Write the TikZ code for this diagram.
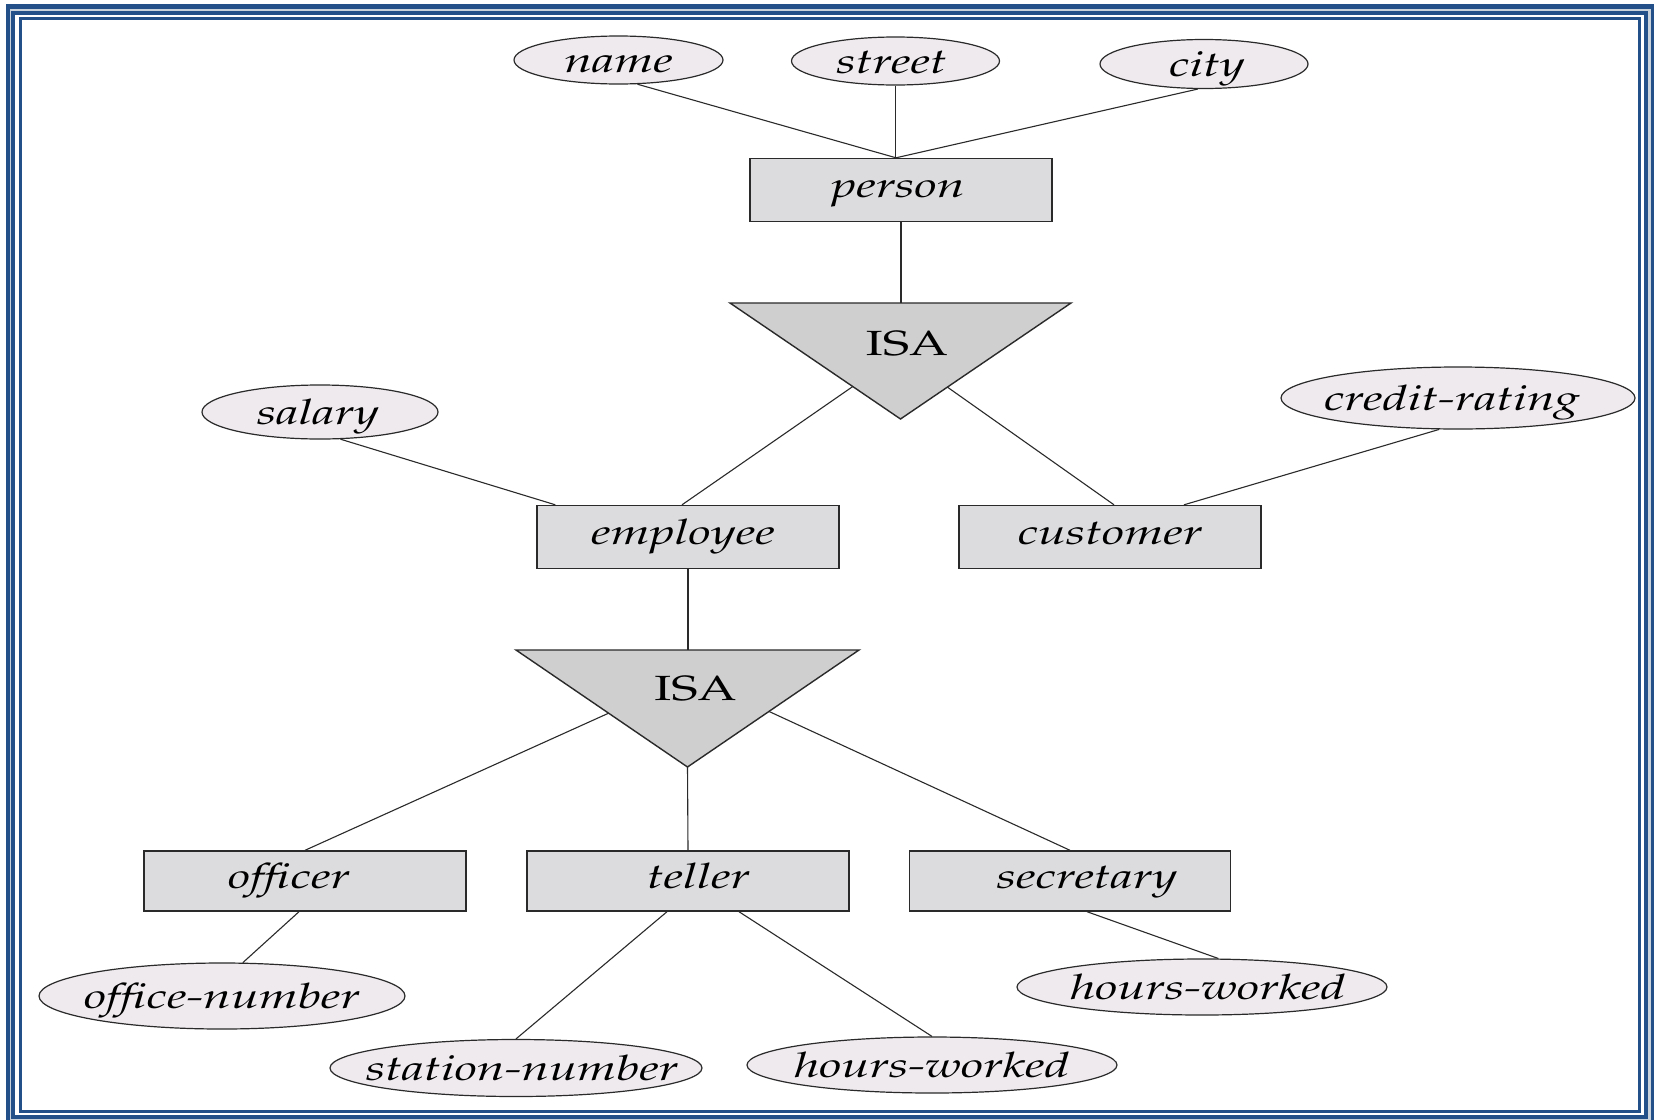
\documentclass[tikz,border=0pt]{standalone}
\usepackage[T1]{fontenc}
\renewcommand{\rmdefault}{ppl}
\usepackage{graphicx}
\usetikzlibrary{shapes.geometric,calc}
\definecolor{frameblue}{HTML}{24508A}
\definecolor{framegap}{HTML}{C9D1DB}
\definecolor{ellfill}{HTML}{EEEAEE}
\definecolor{entfill}{HTML}{DCDBDE}
\definecolor{isafill}{HTML}{CFCFCF}
\definecolor{edgecol}{HTML}{2A2A2A}
\newcommand{\lbfont}{\fontsize{35}{40}\selectfont\itshape}
\newcommand{\entlbl}[2][0pt]{\raisebox{-7.5pt}[0pt][0pt]{\makebox[0pt]{\kern#1\kern#1\scalebox{1.43}[1]{\lbfont #2}}}}
\newcommand{\attlbl}[2][0pt]{\raisebox{-12pt}[0pt][0pt]{\makebox[0pt]{\kern#1\kern#1\scalebox{1.43}[1]{\lbfont #2}}}}
\newcommand{\isalbl}{\scalebox{1.43}[1]{\fontsize{35}{40}\selectfont ISA}}
\begin{document}
\begin{tikzpicture}[x=1pt,y=-1pt,
  attr/.style={ellipse, draw=edgecol, fill=ellfill, line width=1.2pt, inner sep=0pt},
  ent/.style={rectangle, draw=edgecol, fill=entfill, line width=1.4pt, inner sep=0pt},
  isashape/.style={draw=edgecol, fill=isafill, line width=1.4pt, line join=miter},
  conn/.style={draw=edgecol, line width=1.1pt}]
% canvas
\fill[white] (0,0) rectangle (1654,1119);
\useasboundingbox (0,0) rectangle (1654,1119);
% frame
\draw[framegap, line width=3pt] (10.5,10) rectangle (1649.5,1118);
\draw[frameblue, line width=4.5pt] (8,6.5) rectangle (1653,1123);
\draw[frameblue, line width=4pt] (13,13) rectangle (1645.7,1117);
\draw[frameblue, line width=3pt] (20,18.5) rectangle (1639.5,1111.5);

% entities
\node[ent, minimum width=302pt, minimum height=63pt] (person) at (901,190) {\entlbl[-3pt]{person}};
\node[ent, minimum width=302pt, minimum height=63pt] (employee) at (688,537) {\entlbl[-5pt]{employee}};
\node[ent, minimum width=302pt, minimum height=63pt] (customer) at (1110,537) {\entlbl{customer}};
\node[ent, minimum width=322pt, minimum height=60pt] (officer) at (305,881) {\entlbl[-16pt]{officer}};
\node[ent, minimum width=322pt, minimum height=60pt] (teller) at (688,881) {\entlbl[10.5pt]{teller}};
\node[ent, minimum width=321pt, minimum height=60pt] (secretary) at (1070,881) {\entlbl[17pt]{secretary}};

% attributes
\node[attr, minimum width=209pt, minimum height=48pt] (name) at (618.5,60) {\attlbl{name}};
\node[attr, minimum width=208pt, minimum height=48pt] (street) at (895.5,61) {\attlbl[-4pt]{street}};
\node[attr, minimum width=208pt, minimum height=49pt] (city) at (1204,64) {\attlbl[3pt]{city}};
\node[attr, minimum width=236pt, minimum height=54pt] (salary) at (320,412) {\attlbl[-2pt]{salary}};
\node[attr, minimum width=354pt, minimum height=62pt] (credit) at (1458,398) {\attlbl[-6pt]{credit-rating}};
\node[attr, minimum width=366pt, minimum height=66pt] (office) at (222,996) {\attlbl{office-number}};
\node[attr, minimum width=372pt, minimum height=57pt] (station) at (516,1068) {\attlbl[6pt]{station-number}};
\node[attr, minimum width=370pt, minimum height=56pt] (hwa) at (932,1065) {\attlbl{hours-worked}};
\node[attr, minimum width=370pt, minimum height=56pt] (hwb) at (1202,987) {\attlbl[6pt]{hours-worked}};

% ISA triangles
\coordinate (i1l) at (730,303);
\coordinate (i1r) at (1071,303);
\coordinate (i1b) at (900.5,419);
\coordinate (i1t) at (900.5,303);
\draw[isashape] (i1l) -- (i1r) -- (i1b) -- cycle;
\node[anchor=base, inner sep=0pt] (isa1) at (907,355) {\isalbl};

\coordinate (i2l) at (516,650);
\coordinate (i2r) at (859,650);
\coordinate (i2b) at (687.5,767);
\coordinate (i2t) at (687.5,650);
\draw[isashape] (i2l) -- (i2r) -- (i2b) -- cycle;
\node[anchor=base, inner sep=0pt] (isa2) at (695.5,700) {\isalbl};

% connectors
\coordinate (pj) at ([xshift=-5pt]person.north);
\draw[conn] (name.-52) -- (pj);
\draw[conn] (street.south) -- (street.south |- person.north);
\draw[conn] (city.-104) -- (pj);
\draw[conn] (person.south) -- (person.south |- i1t);
\draw[conn] ($(i1l)!0.72!(i1b)$) -- ([xshift=-6pt]employee.north);
\draw[conn] ($(i1r)!0.725!(i1b)$) -- ([xshift=4pt]customer.north);
\draw[conn] (salary.-53) -- ([xshift=19pt]employee.north west);
\draw[conn] (credit.-121) -- ([xshift=74pt]customer.north);
\draw[conn] (employee.south) -- (employee.south |- i2t);
\draw[conn] ($(i2l)!0.54!(i2b)$) -- (officer.north);
\draw[conn] (i2b) -- (teller.north);
\draw[conn] ($(i2r)!0.525!(i2b)$) -- (secretary.north);
\draw[conn] ([xshift=-6pt]officer.south) -- (office.58);
\draw[conn] ([xshift=-21pt]teller.south) -- (station.north);
\draw[conn] ([xshift=51pt]teller.south) -- (hwa.north);
\draw[conn] ([xshift=17pt]secretary.south) -- (hwb.60);
\end{tikzpicture}
\end{document}
